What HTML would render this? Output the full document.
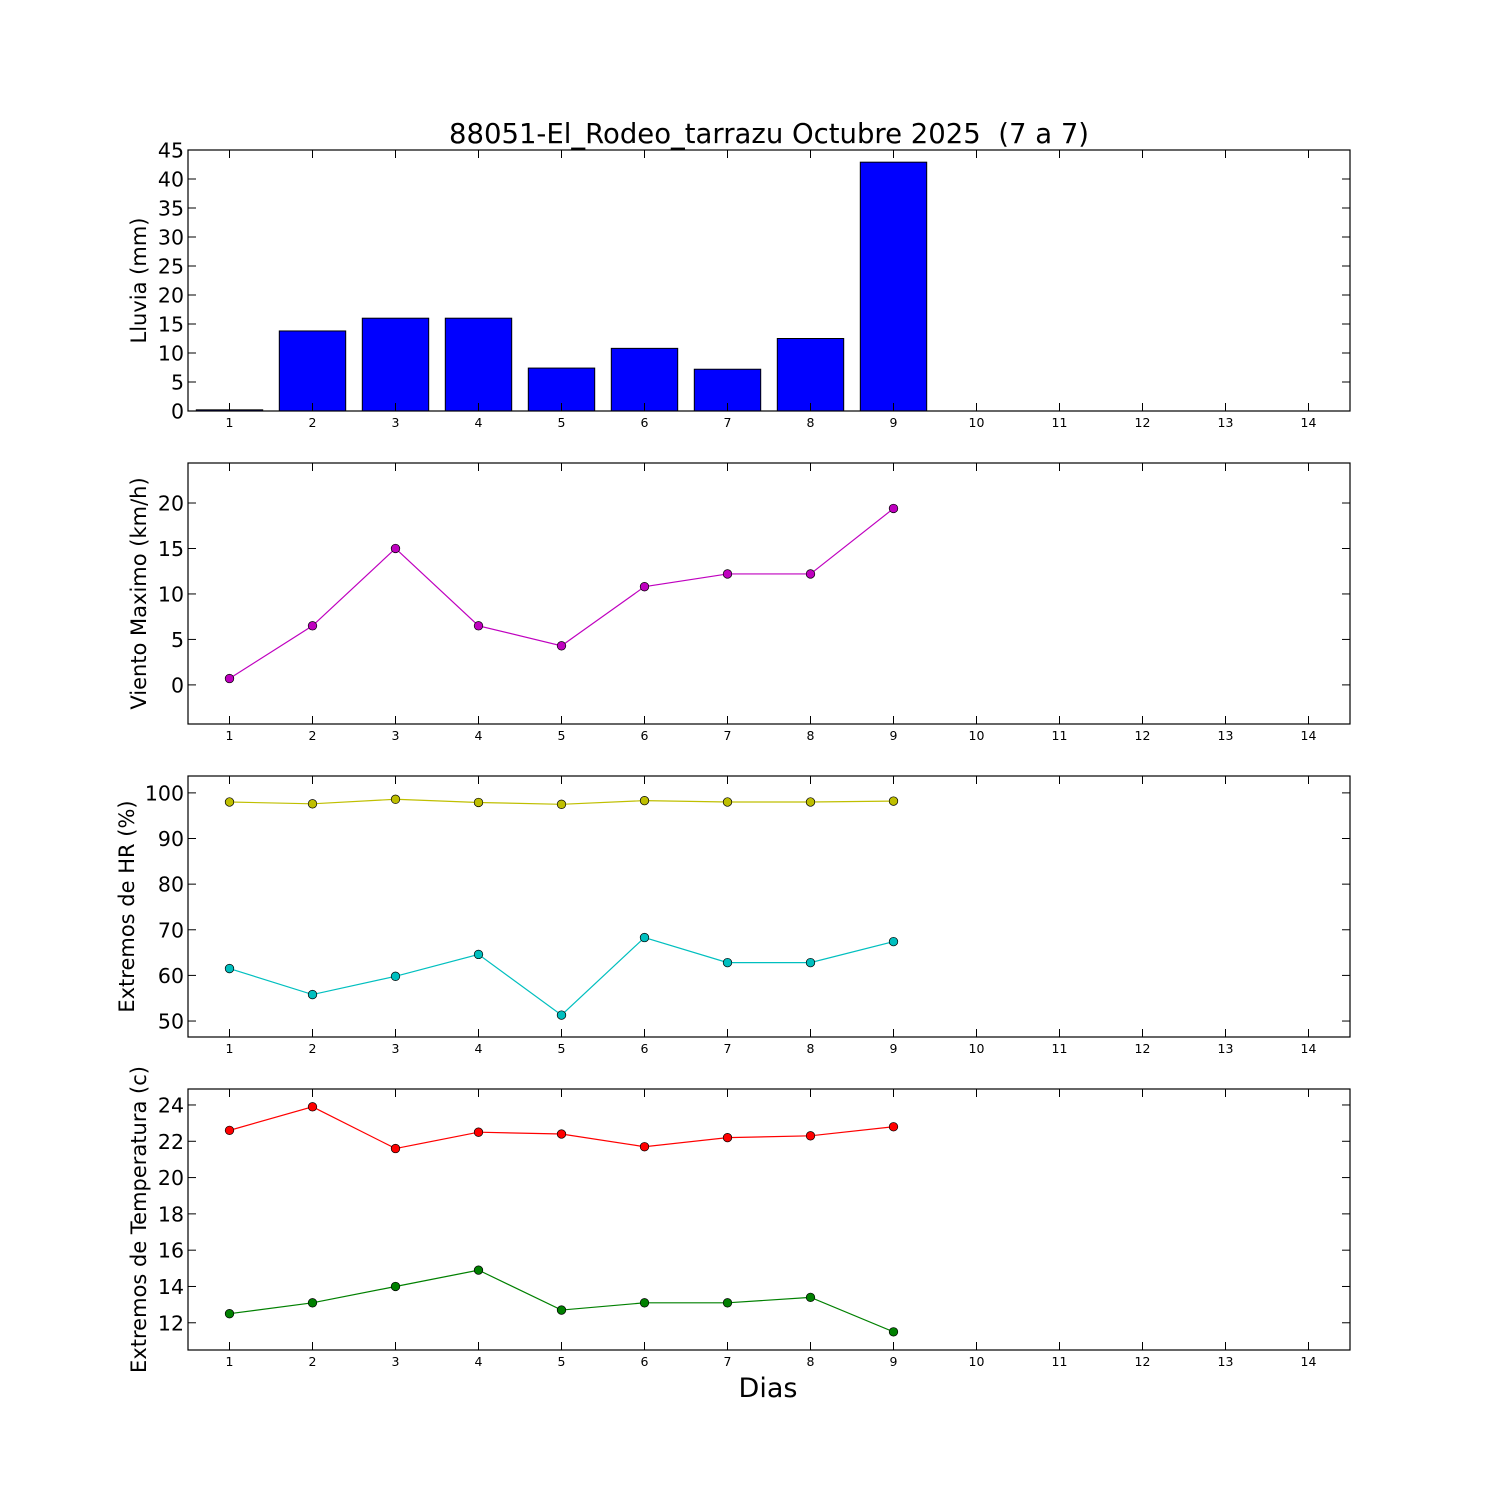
<!DOCTYPE html>
<html><head><meta charset="utf-8"><style>body{margin:0;background:#fff}svg{display:block}text{font-family:"DejaVu Sans","Liberation Sans",sans-serif}</style></head>
<body>
<svg id="s" width="1500" height="1500" xmlns="http://www.w3.org/2000/svg">
<rect width="1500" height="1500" fill="#fff"/>
<text x="769" y="143" font-size="27.5" text-anchor="middle">88051-El_Rodeo_tarrazu Octubre 2025 &#160;(7 a 7)</text>
<text x="768" y="1397" font-size="27" text-anchor="middle">Dias</text>
</svg>
<script>
const s=document.getElementById('s');const NS='http://www.w3.org/2000/svg';
function el(t,a,txt){const e=document.createElementNS(NS,t);for(const k in a)e.setAttribute(k,a[k]);if(txt!==undefined)e.textContent=txt;s.appendChild(e);return e;}
const L=188,R=1350;const X=d=>188+(d-0.5)*(R-L)/14;
const panels=[
 {top:150,bot:411,ymin:0,ymax:45,ticks:[0,5,10,15,20,25,30,35,40,45],label:'Lluvia (mm)',lx:146},
 {top:463,bot:724,ymin:-4.3,ymax:24.4,ticks:[0,5,10,15,20],label:'Viento Maximo (km/h)',lx:146},
 {top:776,bot:1037,ymin:46.5,ymax:103.7,ticks:[50,60,70,80,90,100],label:'Extremos de HR (%)',lx:134},
 {top:1089,bot:1350,ymin:10.5,ymax:24.88,ticks:[12,14,16,18,20,22,24],label:'Extremos de Temperatura (c)',lx:146}
];
panels.forEach((p,i)=>{
 p.Y=v=>p.bot-(v-p.ymin)/(p.ymax-p.ymin)*(p.bot-p.top);
});
const rain=[0.2,13.8,16,16,7.4,10.8,7.2,12.5,42.9];
const p0=panels[0];
rain.forEach((v,i)=>{const w=0.8*(R-L)/14;el('rect',{x:X(i+1)-w/2,y:p0.Y(v),width:w,height:p0.bot-p0.Y(v),fill:'#0000ff',stroke:'#000','stroke-width':1});});
function series(p,vals,col){const pts=vals.map((v,i)=>X(i+1)+','+p.Y(v)).join(' ');el('polyline',{points:pts,fill:'none',stroke:col,'stroke-width':1.2});vals.forEach((v,i)=>el('circle',{cx:X(i+1),cy:p.Y(v),r:4.3,fill:col,stroke:'#000','stroke-width':0.7}));}
series(panels[1],[0.7,6.5,15,6.5,4.3,10.8,12.2,12.2,19.4],'#bf00bf');
series(panels[2],[98,97.6,98.6,97.9,97.5,98.3,98,98,98.2],'#bfbf00');
series(panels[2],[61.5,55.8,59.8,64.6,51.3,68.3,62.8,62.8,67.4],'#00bfbf');
series(panels[3],[22.6,23.9,21.6,22.5,22.4,21.7,22.2,22.3,22.8],'#ff0000');
series(panels[3],[12.5,13.1,14,14.9,12.7,13.1,13.1,13.4,11.5],'#008000');
panels.forEach(p=>{
 el('rect',{x:L,y:p.top,width:R-L,height:p.bot-p.top,fill:'none',stroke:'#000','stroke-width':1.2});
 p.ticks.forEach(t=>{const y=p.Y(t);el('line',{x1:L,x2:L+8,y1:y,y2:y,stroke:'#000'});el('line',{x1:R,x2:R-8,y1:y,y2:y,stroke:'#000'});el('text',{x:L-4,y:y+7.5,'font-size':20.5,'text-anchor':'end'},String(t));});
 for(let d=1;d<=14;d++){const x=X(d);el('line',{x1:x,x2:x,y1:p.bot,y2:p.bot-8,stroke:'#000'});el('line',{x1:x,x2:x,y1:p.top,y2:p.top+8,stroke:'#000'});el('text',{x:x,y:p.bot+16,'font-size':12.5,'text-anchor':'middle'},String(d));}
 const cy=(p.top+p.bot)/2;el('text',{x:p.lx,y:cy,'font-size':21,'text-anchor':'middle',transform:`rotate(-90 ${p.lx} ${cy})`},p.label);
});
</script>
</body></html>
